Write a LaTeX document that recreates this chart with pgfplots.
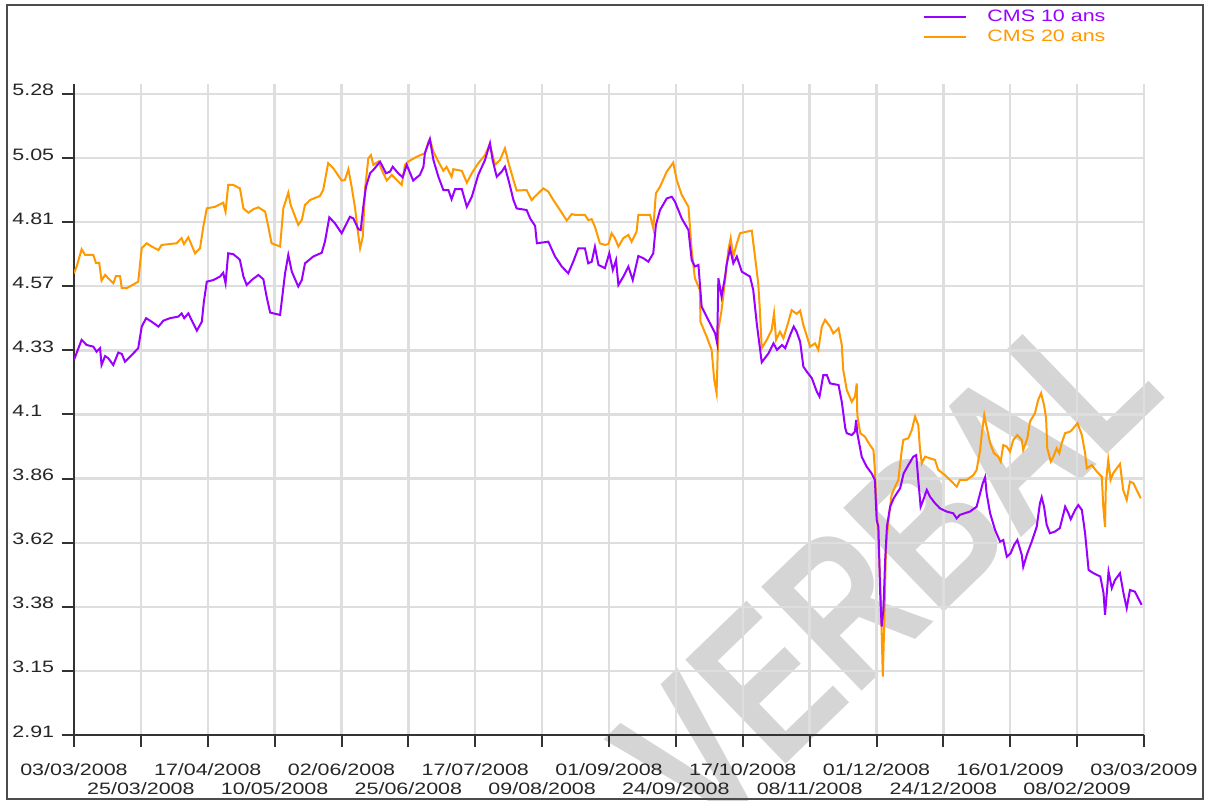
\documentclass[border=0pt]{standalone}
\usepackage{fontspec}
\newfontfamily\lblfont[FakeStretch=1.3]{Liberation Sans}
\newfontfamily\wmfont[FakeStretch=0.75]{Liberation Sans Bold}
\usepackage{pgfplots}
\pgfplotsset{compat=1.18}
\definecolor{cmsp}{RGB}{153,0,255}
\definecolor{cmso}{RGB}{255,153,0}
\begin{document}
\begin{tikzpicture}
\useasboundingbox (0,0) rectangle (602.5pt,-400.5pt);
\begin{scope}
\clip (0,0) rectangle (602.5pt,-400.5pt);
\node[rotate=44, text=gray!33, inner sep=0pt, font={\wmfont\fontsize{105}{105}\selectfont}] at (443pt,-284pt) {VERBAL};
\end{scope}
\begin{axis}[
  at={(37pt,-367.5pt)}, anchor=south west,
  scale only axis, width=535pt, height=325.5pt,
  xmin=0, xmax=365, ymin=2.91, ymax=5.317,
  axis x line*=bottom, axis y line*=left,
  axis line style={line width=1pt, draw=black!80},
  tick align=outside, major tick length=6pt,
  tick style={line width=1pt, draw=black!80},
  grid=major, major grid style={line width=1.2pt, draw=black!13},
  xtick={0,22.8125,45.625,68.4375,91.25,114.0625,136.875,159.6875,182.5,205.3125,228.125,250.9375,273.75,296.5625,319.375,342.1875,365},
  xticklabels={03/03/2008,25/03/2008,17/04/2008,10/05/2008,02/06/2008,25/06/2008,17/07/2008,09/08/2008,01/09/2008,24/09/2008,17/10/2008,08/11/2008,01/12/2008,24/12/2008,16/01/2009,08/02/2009,03/03/2009},
  ytick={2.91,3.147,3.384,3.621,3.858,4.095,4.332,4.569,4.806,5.043,5.28},
  yticklabels={2.91,3.15,3.38,3.62,3.86,4.1,4.33,4.57,4.81,5.05,5.28},
  ticklabel style={font={\lblfont\fontsize{8.25}{9.5}\selectfont}, text=black!85, inner sep=0pt},
  xticklabel style={anchor=base, yshift={-14pt-9.5pt*mod(\ticknum,2)}},
  yticklabel style={anchor=base west, xshift=-25pt, yshift=-1pt},
  legend style={at={(axis description cs:0.7935,1.115)}, anchor=north west, draw=none, fill=none, inner sep=0pt, row sep=3pt, column sep=10pt, font={\lblfont\fontsize{8.25}{9.5}\selectfont}, nodes={inner sep=0pt}},
  legend cell align=left,
  legend image code/.code={\draw[#1] (0pt,0pt) -- (21pt,0pt);},
  reverse legend,
]
\addplot[cmso, line width=1pt] coordinates {
(0,4.617)(0.9,4.642)(2.6,4.706)(3.8,4.685)(6.6,4.685)(7.5,4.655)(8.6,4.656)(9.4,4.590)(10.6,4.611)(13.4,4.580)(14.3,4.607)(15.7,4.607)(16.3,4.562)(18.0,4.562)(21.9,4.586)(23.1,4.710)(24.8,4.728)(26.5,4.716)(28.8,4.703)(29.9,4.722)(35.0,4.728)(36.7,4.747)(37.5,4.725)(39.0,4.750)(41.3,4.691)(43.0,4.710)(44.1,4.789)(45.3,4.857)(48.1,4.863)(50.9,4.878)(51.7,4.845)(52.6,4.944)(54.3,4.944)(56.6,4.931)(57.8,4.857)(59.5,4.841)(61.2,4.854)(62.9,4.861)(65.2,4.845)(66.3,4.789)(67.4,4.728)(70.3,4.716)(71.4,4.857)(73.1,4.915)(73.9,4.870)(76.5,4.796)(77.7,4.814)(78.8,4.870)(80.5,4.888)(83.9,4.903)(85.0,4.925)(86.7,5.024)(88.5,5.005)(91.3,4.960)(92.4,4.962)(93.6,5.002)(94.7,4.937)(95.9,4.857)(96.6,4.789)(97.6,4.710)(98.5,4.752)(99.3,4.931)(100.4,5.042)(101.3,5.054)(102.1,5.018)(103.8,5.030)(105.0,4.999)(106.7,4.960)(108.4,4.981)(110.1,4.962)(111.8,4.944)(112.9,5.018)(114.0,5.030)(116.9,5.048)(119.7,5.061)(120.9,5.104)(121.4,5.113)(122.6,5.067)(124.3,5.030)(126.0,4.996)(127.1,5.011)(128.8,4.974)(129.4,5.002)(132.3,4.996)(134.0,4.952)(135.7,4.987)(137.9,5.024)(140.2,5.054)(141.7,5.091)(142.5,5.067)(143.6,5.018)(145.3,5.036)(147.0,5.079)(148.1,5.030)(149.9,4.962)(151.0,4.923)(154.4,4.925)(156.1,4.888)(157.8,4.907)(160.1,4.931)(161.8,4.919)(163.5,4.888)(165.8,4.851)(168.1,4.812)(169.8,4.836)(170.9,4.833)(174.3,4.833)(175.4,4.814)(176.6,4.817)(177.7,4.789)(179.4,4.728)(181.1,4.722)(182.3,4.725)(183.4,4.765)(184.5,4.747)(185.7,4.716)(187.4,4.747)(189.1,4.759)(190.2,4.734)(191.9,4.771)(192.5,4.833)(196.5,4.833)(197.6,4.784)(198.5,4.913)(199.9,4.937)(202.2,4.993)(204.4,5.026)(205.6,4.962)(207.3,4.907)(209.6,4.863)(210.7,4.703)(211.8,4.599)(213.5,4.555)(213.7,4.438)(215.8,4.383)(217.5,4.334)(218.4,4.223)(219.2,4.174)(219.8,4.408)(220.9,4.481)(222.1,4.592)(223.2,4.703)(224.0,4.747)(224.9,4.679)(226.1,4.728)(227.2,4.765)(229.5,4.771)(231.2,4.775)(232.3,4.679)(233.4,4.580)(233.9,4.494)(234.6,4.340)(236.3,4.371)(238.0,4.408)(238.8,4.469)(239.5,4.371)(240.8,4.401)(242.0,4.377)(243.7,4.438)(244.8,4.481)(246.5,4.467)(247.7,4.479)(248.8,4.426)(251.1,4.346)(252.8,4.358)(253.9,4.334)(255.1,4.420)(256.2,4.445)(257.9,4.420)(259.0,4.395)(260.8,4.414)(261.9,4.352)(262.4,4.260)(263.6,4.186)(265.3,4.142)(266.4,4.161)(267.0,4.210)(267.2,4.093)(268.2,4.026)(269.8,4.013)(271.5,3.982)(272.7,3.964)(273.2,3.890)(273.8,3.754)(274.7,3.557)(275.2,3.422)(275.9,3.126)(276.3,3.286)(277.0,3.606)(277.8,3.705)(278.9,3.798)(280.1,3.828)(281.2,3.853)(282.3,3.958)(282.9,4.001)(284.6,4.007)(285.8,4.038)(286.9,4.087)(288.0,4.056)(288.6,3.964)(289.2,3.915)(290.3,3.939)(292.0,3.933)(293.7,3.927)(294.8,3.890)(297.1,3.871)(299.4,3.847)(301.1,3.828)(302.2,3.853)(304.5,3.853)(306.8,3.871)(307.9,3.890)(309.1,3.964)(309.7,4.026)(310.5,4.093)(311.3,4.050)(312.5,3.989)(313.8,3.952)(315.3,3.939)(316.1,3.921)(317.0,3.982)(318.2,3.976)(319.3,3.958)(320.4,4.001)(321.8,4.019)(323.3,4.001)(323.8,3.964)(325.2,4.007)(326.1,4.069)(327.8,4.100)(328.9,4.149)(329.9,4.174)(330.9,4.130)(331.6,4.081)(332.0,3.970)(333.2,3.921)(334.1,3.939)(335.2,3.970)(336.1,3.952)(336.9,3.989)(338.1,4.026)(339.8,4.032)(340.9,4.044)(342.3,4.063)(343.8,4.019)(344.9,3.952)(345.5,3.896)(347.2,3.908)(348.9,3.884)(350.6,3.865)(351.1,3.754)(351.7,3.680)(352.0,3.841)(352.8,3.927)(353.6,3.853)(354.5,3.878)(355.7,3.896)(356.8,3.912)(357.9,3.816)(359.1,3.779)(360.2,3.847)(361.4,3.841)(362.5,3.816)(363.9,3.785)
};
\addlegendentry{\textcolor{cmso}{CMS 20 ans}}
\addplot[cmsp, line width=1pt] coordinates {
(0,4.297)(2.6,4.371)(4.3,4.352)(6.6,4.346)(7.7,4.327)(8.9,4.340)(9.4,4.278)(10.6,4.311)(11.7,4.303)(13.4,4.278)(15.1,4.324)(16.3,4.319)(17.4,4.290)(19.7,4.315)(21.9,4.340)(23.1,4.420)(24.6,4.451)(26.5,4.438)(28.8,4.420)(30.5,4.442)(32.7,4.451)(35.6,4.457)(36.7,4.469)(37.6,4.451)(39.0,4.469)(41.9,4.405)(43.6,4.438)(44.3,4.512)(45.3,4.586)(47.5,4.592)(49.8,4.605)(50.9,4.619)(51.7,4.580)(52.6,4.691)(54.3,4.688)(56.0,4.673)(56.6,4.666)(57.8,4.605)(58.9,4.574)(60.6,4.592)(62.9,4.611)(64.6,4.595)(65.7,4.531)(66.9,4.472)(70.3,4.463)(72.0,4.617)(73.1,4.685)(74.3,4.623)(76.5,4.568)(77.7,4.592)(78.8,4.654)(81.6,4.679)(84.5,4.693)(85.6,4.734)(87.1,4.824)(89.0,4.802)(91.3,4.765)(92.4,4.789)(94.1,4.826)(95.3,4.820)(97.0,4.780)(97.8,4.777)(98.7,4.866)(99.6,4.937)(101.0,4.987)(102.1,4.999)(104.4,5.030)(106.4,4.987)(107.8,4.993)(108.7,5.011)(110.6,4.987)(112.1,4.972)(113.5,5.018)(115.7,4.960)(118.0,4.981)(119.2,5.011)(119.7,5.061)(120.9,5.098)(121.4,5.113)(122.6,5.036)(124.3,4.974)(126.0,4.925)(127.7,4.925)(128.8,4.891)(130.0,4.928)(132.3,4.928)(134.0,4.863)(135.7,4.900)(137.9,4.981)(140.2,5.036)(141.9,5.098)(142.8,5.036)(144.2,4.974)(145.9,4.993)(147.0,5.011)(148.5,4.950)(149.9,4.888)(151.0,4.857)(154.4,4.851)(155.6,4.820)(157.3,4.792)(157.9,4.728)(161.8,4.734)(164.1,4.679)(166.4,4.642)(168.6,4.617)(170.3,4.660)(172.0,4.709)(174.3,4.709)(175.4,4.654)(176.6,4.660)(177.7,4.715)(178.9,4.648)(181.1,4.636)(182.6,4.691)(183.8,4.629)(184.9,4.666)(185.7,4.574)(187.4,4.605)(189.1,4.642)(190.6,4.592)(192.5,4.681)(194.2,4.673)(195.9,4.660)(197.6,4.691)(198.5,4.796)(199.9,4.851)(202.2,4.894)(203.9,4.900)(205.0,4.882)(207.3,4.820)(209.6,4.777)(210.7,4.666)(211.8,4.642)(213.0,4.648)(214.1,4.494)(215.8,4.457)(218.7,4.395)(219.4,4.358)(219.8,4.599)(220.9,4.531)(222.1,4.605)(222.6,4.648)(223.8,4.709)(224.9,4.654)(226.1,4.679)(227.8,4.623)(230.6,4.605)(231.7,4.555)(232.9,4.432)(234.6,4.288)(236.9,4.321)(238.6,4.358)(239.8,4.334)(241.5,4.352)(242.6,4.340)(244.3,4.389)(245.5,4.420)(246.5,4.401)(247.7,4.364)(248.8,4.272)(250.0,4.253)(251.7,4.229)(253.4,4.179)(254.3,4.161)(255.6,4.241)(256.8,4.241)(257.9,4.210)(260.8,4.204)(261.9,4.142)(263.1,4.044)(263.6,4.026)(265.3,4.019)(266.4,4.032)(266.8,4.075)(267.2,4.026)(268.7,3.939)(270.4,3.902)(272.1,3.877)(273.2,3.853)(273.8,3.705)(274.4,3.680)(275.0,3.434)(275.5,3.311)(276.1,3.372)(276.7,3.557)(277.3,3.680)(278.4,3.754)(279.6,3.785)(280.7,3.804)(281.8,3.822)(283.0,3.877)(284.6,3.908)(286.3,3.939)(287.3,3.945)(288.0,3.853)(288.8,3.754)(289.7,3.779)(290.9,3.816)(292.0,3.791)(293.7,3.767)(295.4,3.748)(297.7,3.736)(299.9,3.730)(301.1,3.711)(302.2,3.724)(305.6,3.736)(307.9,3.754)(309.1,3.804)(310.0,3.841)(310.8,3.863)(311.3,3.804)(312.5,3.730)(314.2,3.668)(315.9,3.625)(317.0,3.631)(318.2,3.569)(319.5,3.582)(320.7,3.613)(321.8,3.631)(323.3,3.576)(323.8,3.532)(325.2,3.582)(326.7,3.625)(328.4,3.680)(329.5,3.767)(330.1,3.789)(330.9,3.754)(331.8,3.687)(332.9,3.656)(334.6,3.662)(336.3,3.675)(338.1,3.754)(339.2,3.730)(340.0,3.708)(341.5,3.742)(342.6,3.760)(343.8,3.742)(344.9,3.656)(346.1,3.520)(347.8,3.508)(350.1,3.496)(351.2,3.434)(351.7,3.354)(352.3,3.434)(352.9,3.514)(354.0,3.453)(355.1,3.483)(356.8,3.508)(358.0,3.434)(359.1,3.379)(360.2,3.446)(361.9,3.440)(364.2,3.391)
};
\addlegendentry{\textcolor{cmsp}{CMS 10 ans}}
\end{axis}
\draw[line width=1.2pt, draw=black!70] (3.5pt,-2.5pt) rectangle (601.5pt,-399.5pt);
\end{tikzpicture}
\end{document}
